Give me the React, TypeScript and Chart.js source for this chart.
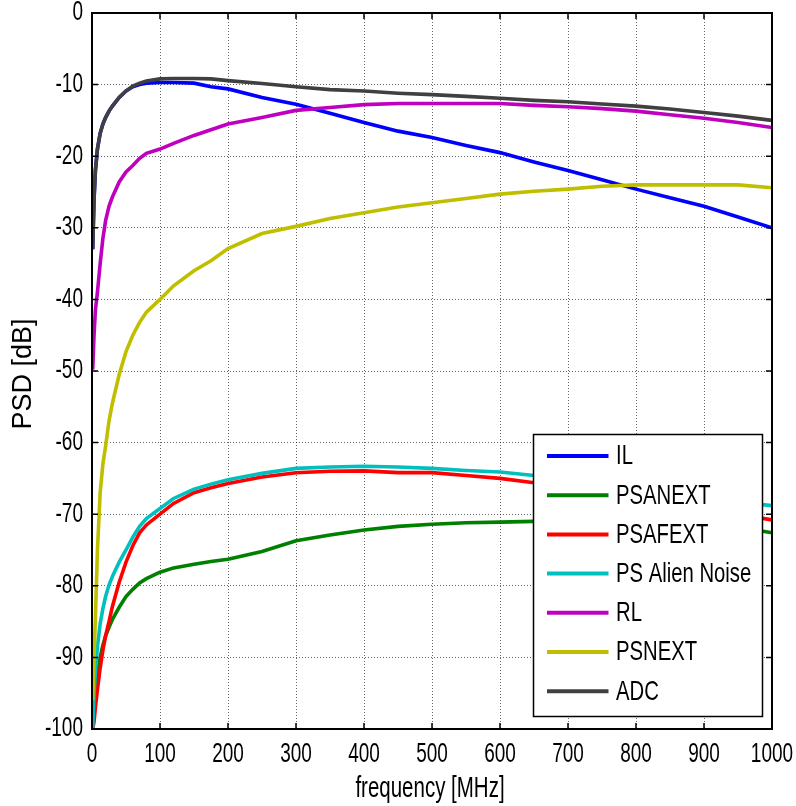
import React, { useEffect, useRef } from "react";
import { Chart, registerables } from "chart.js";

Chart.register(...registerables);

const freqs = [1, 3, 5, 8, 12, 16, 20, 25, 30, 40, 50, 60, 70, 80, 100, 120, 150, 175, 200, 250, 300, 350, 400, 450, 500, 550, 600, 650, 700, 750, 800, 850, 900, 950, 1000];

const IL = [-33, -26, -22, -19, -16.8, -15.5, -14.6, -13.7, -13.0, -11.8, -10.9, -10.3, -10.0, -9.8, -9.7, -9.7, -9.8, -10.3, -10.6, -11.8, -12.75, -14.0, -15.3, -16.5, -17.4, -18.5, -19.5, -20.8, -22.0, -23.3, -24.6, -25.8, -27.0, -28.5, -30.0];
const PSANEXT = [-100, -97, -95, -92.5, -90, -88.3, -87, -85.8, -84.7, -83.0, -81.5, -80.5, -79.6, -79.0, -78.1, -77.5, -77.0, -76.6, -76.3, -75.2, -73.7, -72.9, -72.2, -71.7, -71.4, -71.2, -71.1, -71.0, -71.0, -71.0, -71.0, -71.0, -71.2, -71.8, -72.6];
const PSAFEXT = [-100, -99, -97, -94.5, -91.5, -89, -87, -85, -82.9, -79.5, -76.7, -74.4, -72.6, -71.5, -70.0, -68.5, -67.0, -66.3, -65.7, -64.8, -64.2, -64.0, -63.95, -64.2, -64.2, -64.6, -65.0, -65.6, -66.3, -67.0, -67.8, -68.6, -69.3, -70.0, -70.8];
const PSAlienNoise = [-100, -95, -92, -88.5, -85.3, -83.2, -81.5, -79.9, -78.7, -76.7, -75.0, -73.2, -71.7, -70.6, -69.2, -67.8, -66.5, -65.8, -65.2, -64.3, -63.6, -63.4, -63.3, -63.4, -63.6, -63.9, -64.1, -64.6, -65.3, -66.0, -66.7, -67.3, -67.8, -68.3, -68.8];
const RL = [-49.8, -45, -41.5, -39, -35, -31.5, -29, -27, -25.7, -23.6, -22.2, -21.3, -20.3, -19.6, -19.0, -18.2, -17.1, -16.3, -15.5, -14.6, -13.6, -13.2, -12.8, -12.65, -12.65, -12.65, -12.65, -12.9, -13.1, -13.35, -13.7, -14.2, -14.7, -15.3, -16.0];
const PSNEXT = [-96, -90, -84.5, -75, -67, -63, -60.5, -57, -54.5, -50.5, -47.3, -45, -43.2, -41.8, -40.0, -38.1, -36.0, -34.6, -32.9, -30.8, -29.8, -28.7, -27.9, -27.1, -26.5, -25.9, -25.3, -24.9, -24.6, -24.2, -24.0, -24.0, -24.0, -24.0, -24.4];
const ADC = [-33, -26, -22, -19, -16.8, -15.5, -14.6, -13.7, -13.0, -11.8, -10.9, -10.2, -9.8, -9.5, -9.2, -9.15, -9.15, -9.2, -9.45, -9.85, -10.3, -10.7, -10.9, -11.2, -11.4, -11.65, -11.9, -12.2, -12.4, -12.7, -13.0, -13.4, -13.9, -14.4, -15.0];

const seriesNames = ["IL", "PSANEXT", "PSAFEXT", "PS Alien Noise", "RL", "PSNEXT", "ADC"];
const seriesValues = [IL, PSANEXT, PSAFEXT, PSAlienNoise, RL, PSNEXT, ADC];
const seriesColors = ["#0000FF", "#008000", "#FF0000", "#00BFBF", "#BF00BF", "#BFBF00", "#404040"];

const xTicks = [0, 100, 200, 300, 400, 500, 600, 700, 800, 900, 1000];
const yTicks = [0, -10, -20, -30, -40, -50, -60, -70, -80, -90, -100];
const xTitle = "frequency [MHz]";
const yTitle = "PSD [dB]";

const FONT = '"Liberation Sans", Arial, sans-serif';

function stretchedText(ctx: CanvasRenderingContext2D, text: string, x: number, y: number, size: number, sy: number, align: CanvasTextAlign, baseline: CanvasTextBaseline) {
  ctx.save();
  ctx.translate(x, y);
  ctx.scale(1, sy);
  ctx.font = `${size}px ${FONT}`;
  ctx.textAlign = align;
  ctx.textBaseline = baseline;
  ctx.fillStyle = "#000";
  ctx.fillText(text, 0, 0);
  ctx.restore();
}

const decorPlugin = {
  id: "matlabDecor",
  afterDraw(chart: any) {
    const ctx: CanvasRenderingContext2D = chart.ctx;
    const { left, right, top, bottom } = chart.chartArea;
    const xs = chart.scales.x;
    const ys = chart.scales.y;

    // inner tick marks
    ctx.save();
    ctx.strokeStyle = "#000";
    ctx.lineWidth = 1.5;
    ctx.beginPath();
    xTicks.forEach((v) => {
      const px = xs.getPixelForValue(v);
      ctx.moveTo(px, bottom);
      ctx.lineTo(px, bottom - 6);
      ctx.moveTo(px, top);
      ctx.lineTo(px, top + 6);
    });
    yTicks.forEach((v) => {
      const py = ys.getPixelForValue(v);
      ctx.moveTo(left, py);
      ctx.lineTo(left + 6, py);
      ctx.moveTo(right, py);
      ctx.lineTo(right - 6, py);
    });
    ctx.stroke();

    // axes box
    ctx.lineWidth = 2;
    ctx.strokeRect(left, top, right - left, bottom - top);
    ctx.restore();

    // tick labels
    xTicks.forEach((v) => {
      stretchedText(ctx, String(v), xs.getPixelForValue(v), bottom + 26, 19, 1.42, "center", "middle");
    });
    yTicks.forEach((v) => {
      stretchedText(ctx, String(v), left - 9, ys.getPixelForValue(v), 19, 1.42, "right", "middle");
    });

    // axis titles
    stretchedText(ctx, xTitle, (left + right) / 2 - 2, 797, 20.5, 1.42, "center", "alphabetic");
    ctx.save();
    ctx.translate(31, (top + bottom) / 2 + 3);
    ctx.rotate(-Math.PI / 2);
    ctx.font = `27px ${FONT}`;
    ctx.textAlign = "center";
    ctx.textBaseline = "alphabetic";
    ctx.fillStyle = "#000";
    ctx.fillText(yTitle, 0, 0);
    ctx.restore();

    // legend
    const bx = 533.5, by = 434.5, bw = 229, bh = 282;
    ctx.save();
    ctx.fillStyle = "#fff";
    ctx.fillRect(bx, by, bw, bh);
    ctx.strokeStyle = "#000";
    ctx.lineWidth = 1.5;
    ctx.strokeRect(bx, by, bw, bh);
    seriesNames.forEach((name, i) => {
      const ry = by + 21.5 + i * 39.2;
      ctx.strokeStyle = seriesColors[i];
      ctx.lineWidth = 4;
      ctx.beginPath();
      ctx.moveTo(bx + 13.5, ry);
      ctx.lineTo(bx + 75, ry);
      ctx.stroke();
      stretchedText(ctx, name, bx + 82.5, ry + 1, 20.3, 1.33, "left", "middle");
    });
    ctx.restore();
  },
};

export default function App() {
  const canvasRef = useRef<HTMLCanvasElement | null>(null);

  useEffect(() => {
    const canvas = canvasRef.current;
    if (!canvas) return;
    const datasets = seriesNames.map((name, i) => ({
      label: name,
      data: freqs.map((f, j) => ({ x: f, y: seriesValues[i][j] })),
      borderColor: seriesColors[i],
      backgroundColor: seriesColors[i],
      borderWidth: 3.6,
      pointRadius: 0,
      tension: 0,
      fill: false,
      order: seriesNames.length - 1 - i,
    }));
    const gridOpts = { color: "rgba(0,0,0,0.6)", lineWidth: 1, drawTicks: false };
    const chart = new Chart(canvas, {
      type: "line",
      data: { datasets },
      options: {
        responsive: false,
        animation: false,
        layout: { padding: { top: 13, right: 24, bottom: 0, left: 0 } },
        plugins: { legend: { display: false }, tooltip: { enabled: false }, title: { display: false } },
        scales: {
          x: {
            type: "linear",
            min: 0,
            max: 1000,
            ticks: { stepSize: 100, display: false },
            grid: gridOpts,
            border: { display: false, dash: [1, 2] },
            afterFit: (s: any) => { s.height = 77; },
          },
          y: {
            type: "linear",
            min: -100,
            max: 0,
            ticks: { stepSize: 10, display: false },
            grid: gridOpts,
            border: { display: false, dash: [1, 2] },
            afterFit: (s: any) => { s.width = 92; },
          },
        },
      },
      plugins: [decorPlugin],
    } as any);
    return () => chart.destroy();
  }, []);

  return (
    <div style={{ position: "absolute", left: 0, top: 0, width: 796, height: 806, background: "#fff" }}>
      <canvas ref={canvasRef} width={796} height={806} style={{ display: "block" }} />
    </div>
  );
}
